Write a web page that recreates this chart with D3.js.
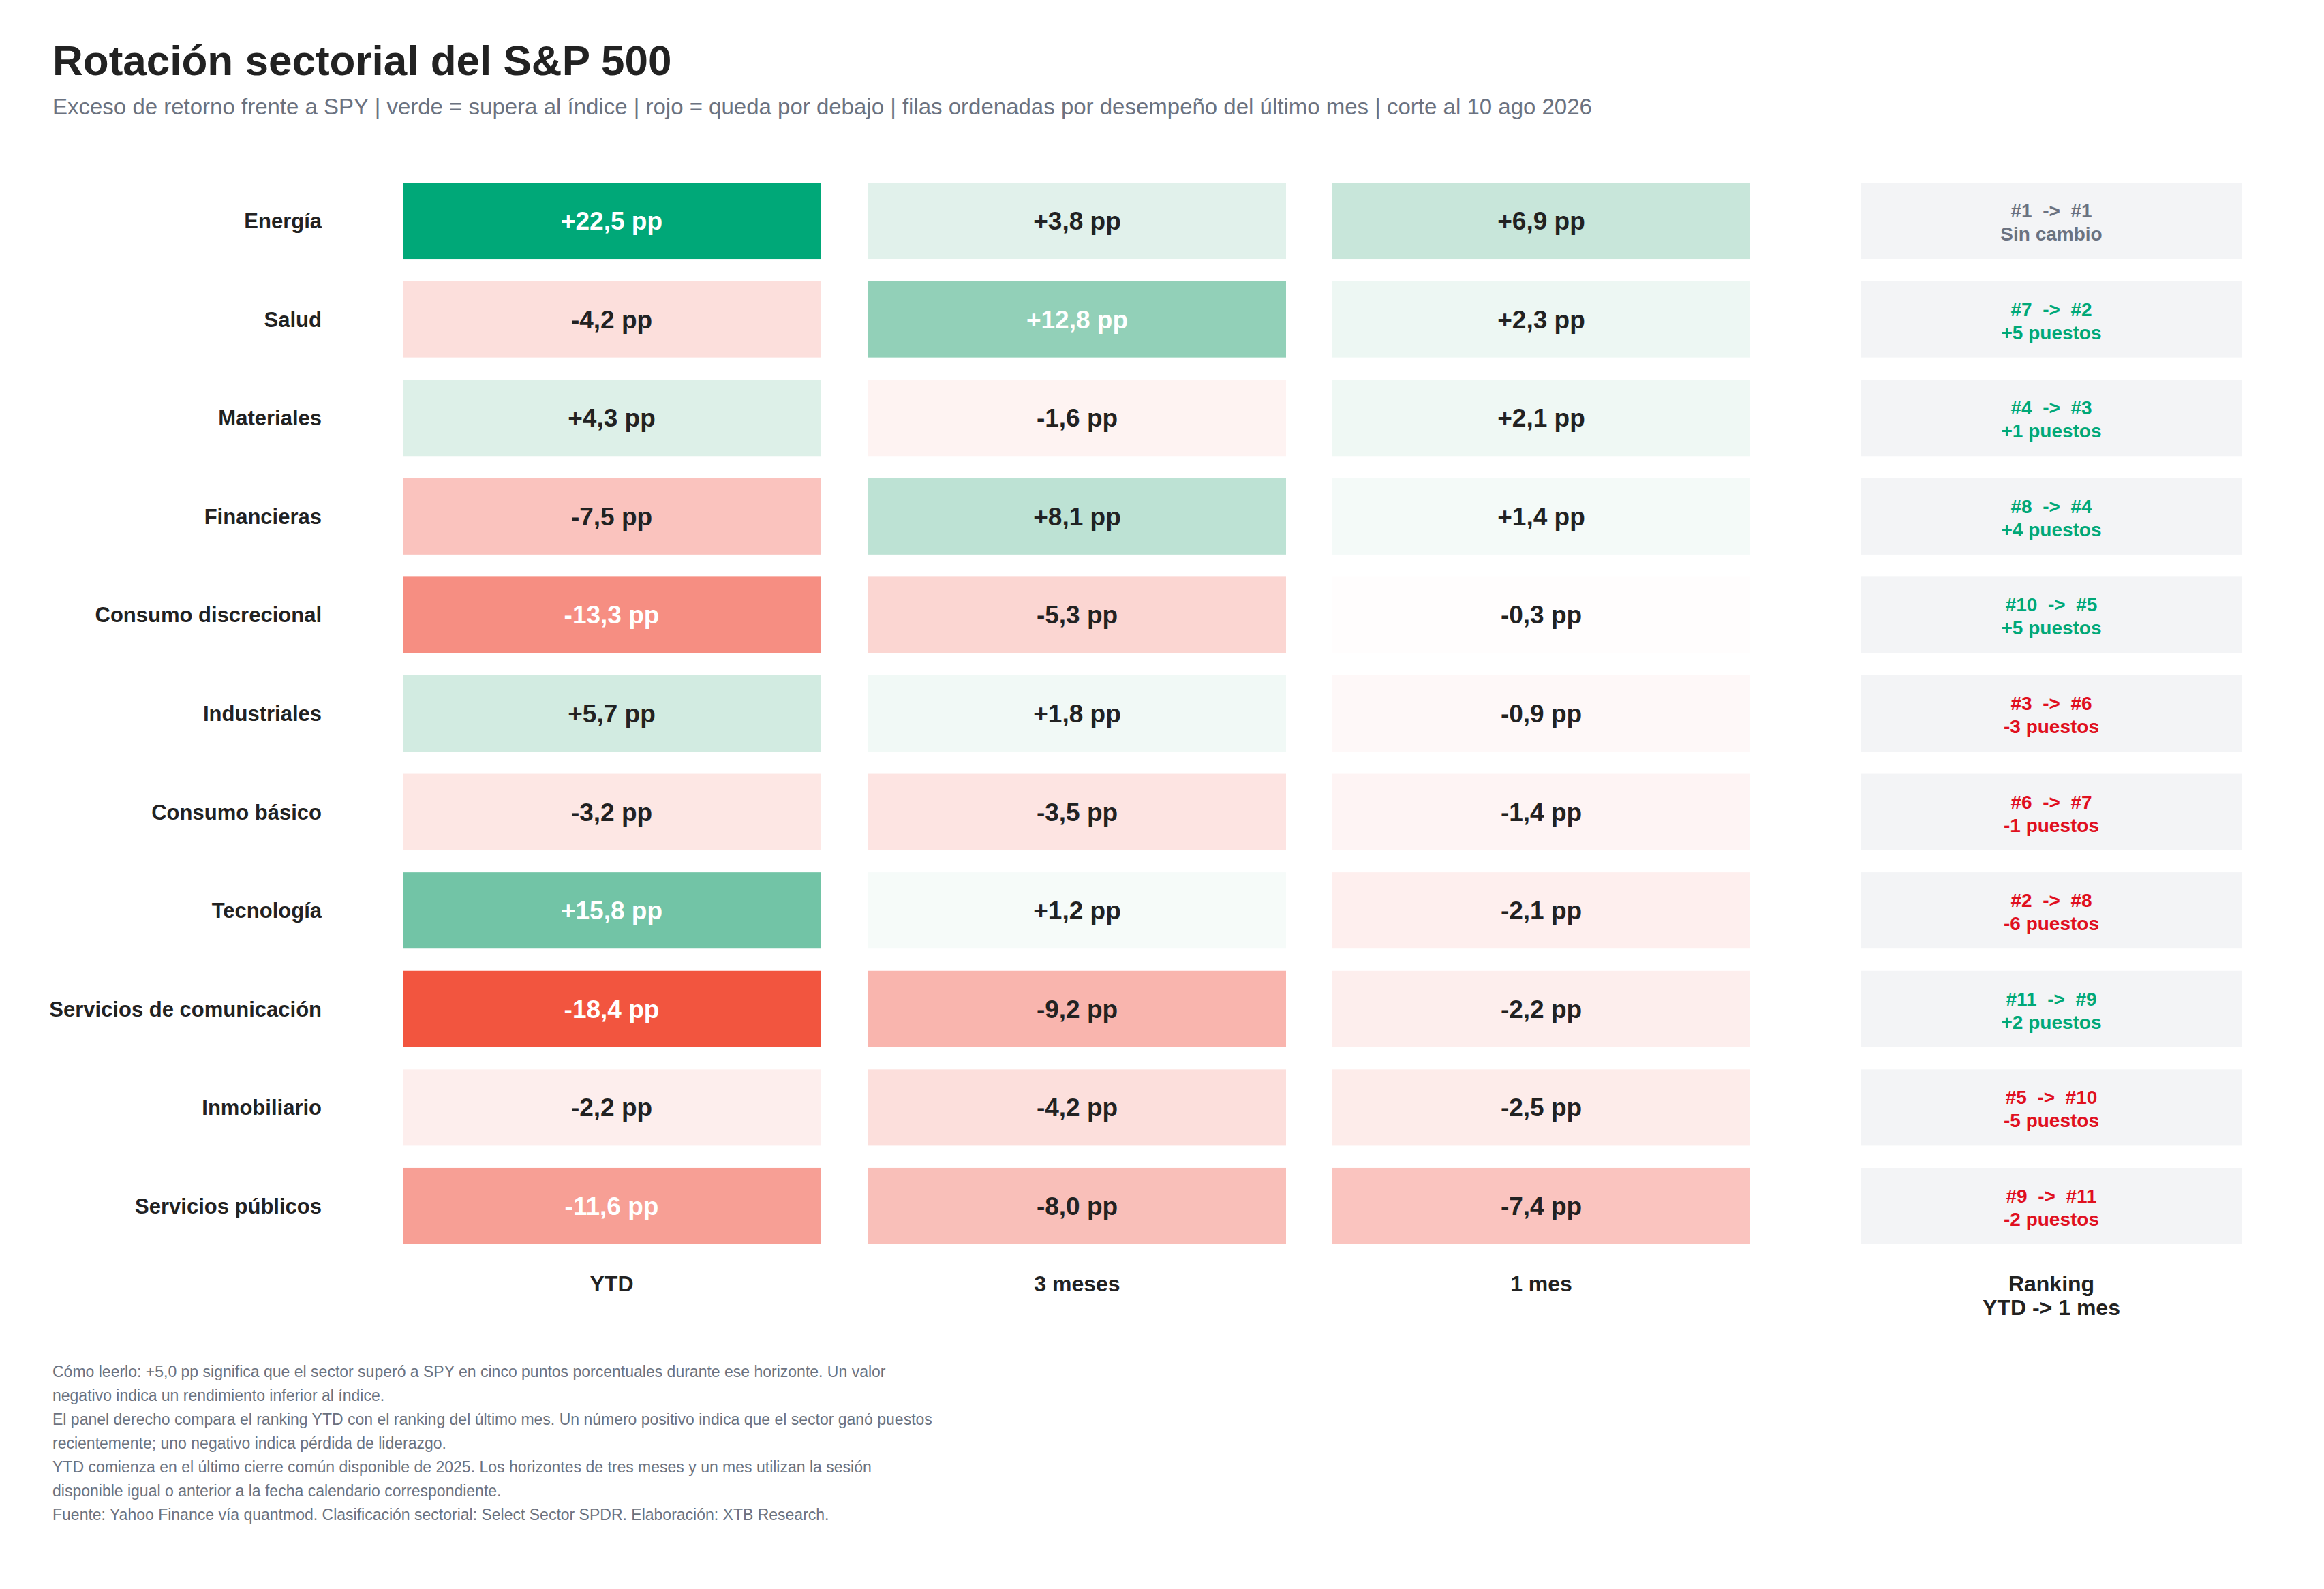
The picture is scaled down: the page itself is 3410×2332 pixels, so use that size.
<!DOCTYPE html>
<html><head><meta charset="utf-8">
<script src="https://cdn.jsdelivr.net/npm/d3@7"></script>
<style>body{margin:0;background:#fff}svg{display:block;font-family:"Liberation Sans",Arial,sans-serif}</style>
</head><body><svg id="c" width="3410" height="2332"></svg>
<script>
const sectors=["Energía","Salud","Materiales","Financieras","Consumo discrecional","Industriales","Consumo básico","Tecnología","Servicios de comunicación","Inmobiliario","Servicios públicos"];
const ytd=[22.5,-4.2,4.3,-7.5,-13.3,5.7,-3.2,15.8,-18.4,-2.2,-11.6];
const m3=[3.8,12.8,-1.6,8.1,-5.3,1.8,-3.5,1.2,-9.2,-4.2,-8.0];
const m1=[6.9,2.3,2.1,1.4,-0.3,-0.9,-1.4,-2.1,-2.2,-2.5,-7.4];
const rankYtd=[1,7,4,8,10,3,6,2,11,5,9];
const rank1m=[1,2,3,4,5,6,7,8,9,10,11];
const colLabels=["YTD","3 meses","1 mes"];
const notes=["Cómo leerlo: +5,0 pp significa que el sector superó a SPY en cinco puntos porcentuales durante ese horizonte. Un valor","negativo indica un rendimiento inferior al índice.","El panel derecho compara el ranking YTD con el ranking del último mes. Un número positivo indica que el sector ganó puestos","recientemente; uno negativo indica pérdida de liderazgo.","YTD comienza en el último cierre común disponible de 2025. Los horizontes de tres meses y un mes utilizan la sesión","disponible igual o anterior a la fecha calendario correspondiente.","Fuente: Yahoo Finance vía quantmod. Clasificación sectorial: Select Sector SPDR. Elaboración: XTB Research."];

const svg=d3.select("#c");
svg.append("text").attr("x",77).attr("y",110).attr("font-size",62).attr("font-weight","bold").attr("fill","#222").text("Rotación sectorial del S&P 500");
svg.append("text").attr("x",77).attr("y",168).attr("font-size",33).attr("fill","#6b7280").text("Exceso de retorno frente a SPY | verde = supera al índice | rojo = queda por debajo | filas ordenadas por desempeño del último mes | corte al 10 ago 2026");

const y=d3.scaleBand().domain(sectors).range([268,1826]).paddingInner(0.225).paddingOuter(0);
const x=d3.scaleOrdinal().domain(colLabels).range([591,1274,1955]);
const cw=613;
const green=d3.scaleLinear().domain([0,22.5]).range(["#ffffff","#00a878"]).interpolate(d3.interpolateRgb.gamma(1.5)).clamp(true);
const red=d3.scaleLinear().domain([0,18.4]).range(["#ffffff","#f2553f"]).interpolate(d3.interpolateRgb.gamma(1.5)).clamp(true);
const col=v=>v>=0?green(v):red(-v);
const fmt=v=>(v>=0?"+":"")+v.toFixed(1).replace(".",",")+" pp";

const series=[ytd,m3,m1];
series.forEach((s,ci)=>{
  const g=svg.append("g");
  g.selectAll("rect").data(s).join("rect").attr("x",x(colLabels[ci])).attr("y",(d,i)=>y(sectors[i])).attr("width",cw).attr("height",y.bandwidth()).attr("fill",d=>col(d));
  g.selectAll("text").data(s).join("text").attr("x",x(colLabels[ci])+cw/2).attr("y",(d,i)=>y(sectors[i])+y.bandwidth()/2+13).attr("text-anchor","middle").attr("font-size",37).attr("font-weight","bold").attr("fill",d=>Math.abs(d)>11?"#fff":"#222").text(fmt);
  svg.append("text").attr("x",x(colLabels[ci])+cw/2).attr("y",1895).attr("text-anchor","middle").attr("font-size",32).attr("font-weight","bold").attr("fill","#222").text(colLabels[ci]);
});
svg.append("g").selectAll("text").data(sectors).join("text").attr("x",472).attr("y",d=>y(d)+y.bandwidth()/2+11).attr("text-anchor","end").attr("font-size",31).attr("font-weight","bold").attr("fill","#222").text(d=>d);

const rx=2731,rw=558;
const rg=svg.append("g");
sectors.forEach((s,i)=>{
  const diff=rankYtd[i]-rank1m[i];
  const c=diff>0?"#00a878":diff<0?"#e0101f":"#6b7280";
  rg.append("rect").attr("x",rx).attr("y",y(s)).attr("width",rw).attr("height",y.bandwidth()).attr("fill","#f3f4f6");
  const t=rg.append("text").attr("x",rx+rw/2).attr("text-anchor","middle").attr("font-size",28).attr("font-weight","bold").attr("fill",c);
  t.append("tspan").attr("x",rx+rw/2).attr("y",y(s)+y.bandwidth()/2-5).attr("xml:space","preserve").style("white-space","pre").text(`#${rankYtd[i]}  ->  #${rank1m[i]}`);
  t.append("tspan").attr("x",rx+rw/2).attr("y",y(s)+y.bandwidth()/2+29).text(diff===0?"Sin cambio":(diff>0?"+":"")+diff+" puestos");
});
const rl=svg.append("text").attr("text-anchor","middle").attr("font-size",32).attr("font-weight","bold").attr("fill","#222");
rl.append("tspan").attr("x",rx+rw/2).attr("y",1895).text("Ranking");
rl.append("tspan").attr("x",rx+rw/2).attr("y",1930).text("YTD -> 1 mes");

svg.append("g").selectAll("text").data(notes).join("text").attr("x",77).attr("y",(d,i)=>2021+i*35).attr("font-size",23).attr("fill","#6b7280").text(d=>d);
</script></body></html>
